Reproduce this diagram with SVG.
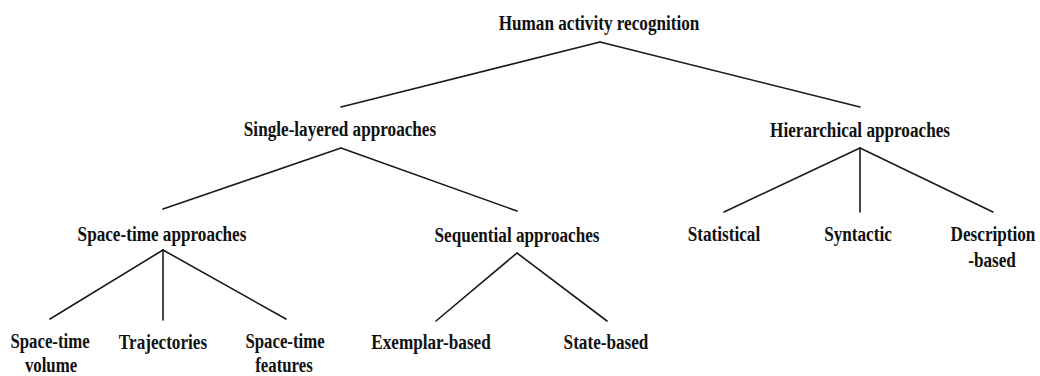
<svg xmlns="http://www.w3.org/2000/svg" width="1040" height="376" viewBox="0 0 1040 376">
<style>
text{font-family:"Liberation Serif","Times New Roman",serif;font-weight:bold;font-size:22px;fill:#111;text-anchor:middle}
.s{font-size:21px}
.c line{stroke:#1a1a1a;stroke-width:1.6;stroke-linecap:round}
</style>
<rect width="1040" height="376" fill="#fff"/>
<g id="connectors" class="c">
<line x1="600" y1="42" x2="341" y2="107"/>
<line x1="600" y1="42" x2="860" y2="107"/>
<line x1="341" y1="148" x2="163" y2="209"/>
<line x1="341" y1="148" x2="517" y2="211"/>
<line x1="860" y1="148" x2="724" y2="212"/>
<line x1="860" y1="148" x2="860" y2="212"/>
<line x1="860" y1="148" x2="993" y2="212"/>
<line x1="163" y1="250" x2="50" y2="319"/>
<line x1="163" y1="250" x2="163" y2="320"/>
<line x1="163" y1="250" x2="286" y2="319"/>
<line x1="517" y1="253" x2="436" y2="321"/>
<line x1="517" y1="253" x2="607" y2="321"/>
</g>
<g id="root"><text transform="translate(599 30) scale(0.78 1)">Human activity recognition</text></g>
<g id="single"><text transform="translate(340 136) scale(0.78 1)">Single-layered approaches</text></g>
<g id="hier"><text transform="translate(860 137) scale(0.78 1)">Hierarchical approaches</text></g>
<g id="spacetime"><text transform="translate(162 241) scale(0.78 1)">Space-time approaches</text></g>
<g id="sequential"><text transform="translate(517 242) scale(0.78 1)">Sequential approaches</text></g>
<g id="statistical"><text transform="translate(724 241) scale(0.78 1)">Statistical</text></g>
<g id="syntactic"><text transform="translate(858 241) scale(0.78 1)">Syntactic</text></g>
<g id="description"><text transform="translate(993 241) scale(0.78 1)">Description</text><text transform="translate(992 267) scale(0.78 1)">-based</text></g>
<g id="volume"><text class="s" transform="translate(50 348) scale(0.8 1)">Space-time</text><text class="s" transform="translate(51 372) scale(0.8 1)">volume</text></g>
<g id="trajectories"><text transform="translate(163 349) scale(0.78 1)">Trajectories</text></g>
<g id="features"><text class="s" transform="translate(285 348) scale(0.8 1)">Space-time</text><text class="s" transform="translate(284 372) scale(0.8 1)">features</text></g>
<g id="exemplar"><text transform="translate(431 349) scale(0.78 1)">Exemplar-based</text></g>
<g id="state"><text transform="translate(606 349) scale(0.78 1)">State-based</text></g>
</svg>
